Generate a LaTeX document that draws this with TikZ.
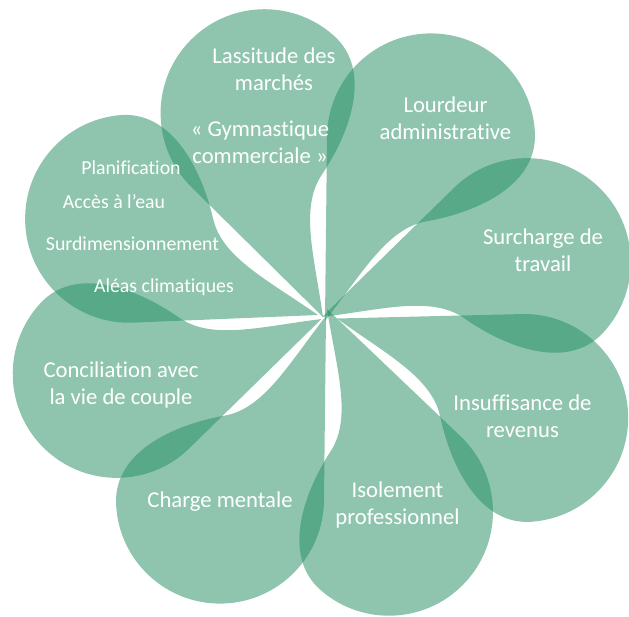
\documentclass[tikz,border=0pt]{standalone}
\usepackage{fontspec}
\setmainfont{Carlito}[Ligatures={NoCommon,NoContextual}]
\usepackage{tikz}
\definecolor{flower}{RGB}{35,142,99}

\begin{document}
\begin{tikzpicture}[x=0.75pt,y=0.75pt]
  \tikzset{petal/.style = {fill=flower,fill opacity=0.51}}
  \tikzset{word/.style = {text=white,align=center,inner sep=0pt,font=\fontsize{17}{20.25}\selectfont}}
  \tikzset{smallword/.style = {text=white,anchor=base,inner sep=0pt,font=\fontsize{14.85}{17.8}\selectfont}}

  \clip (-327,-300) rectangle (302,317);

  \foreach \ang/\dx/\dy in {106/-4/0, 60/-2/-4, 15/-5/0, -28/10/-1.5, -73/0/8, -120/-1/1, 195/-5.5/-2, 153/-9/2}
    \fill[petal,shift={(\dx,\dy)},rotate=\ang] (0,0) .. controls (60,-8.4) and (111.3,-7.4) .. (137,-38)
      .. controls (172.4,-80.1) and (224.7,-114.7) .. (267.1,-88.2)
      arc[start angle=-58,end angle=119.4,radius=104] -- cycle;

	\node[word] (lassitude) at (-53,248) {Lassitude des\\marchés};
	\node[word] (gym) at (-67,174.5) {« Gymnastique\\commerciale »};
	\node[word] (lourdeur) at (118.5,199) {Lourdeur\\administrative};
	\node[word] (surcharge) at (216,66.5) {Surcharge de\\travail};
	\node[word] (insuff) at (195.5,-99) {Insuffisance de\\revenus};
	\node[word] (isolement) at (70.5,-188) {Isolement\\professionnel};
	\node[word] (charge) at (-107,-185) {Charge mentale};
	\node[word] (conciliation) at (-206,-68) {Conciliation avec\\la vie de couple};

	\node[smallword] (planif) at (-196,142) {Planification};
	\node[smallword] (acces) at (-213,108) {Accès à l’eau};
	\node[smallword] (surdim) at (-194.5,66.3) {Surdimensionnement};
	\node[smallword] (aleas) at (-163,24) {Aléas climatiques};
\end{tikzpicture}
\end{document}
